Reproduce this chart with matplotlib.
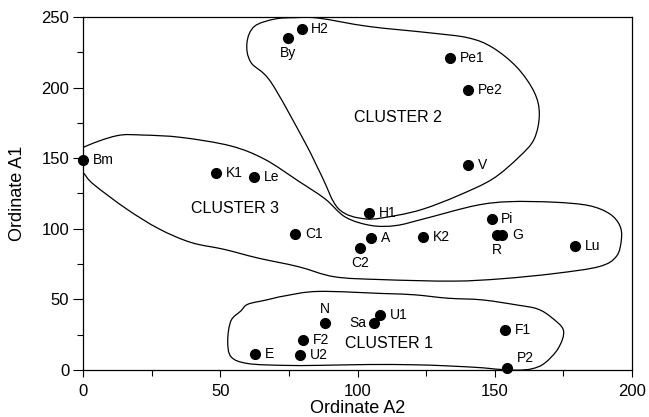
import numpy as np
import matplotlib
matplotlib.use("Agg")
import matplotlib.pyplot as plt
from matplotlib.path import Path
from matplotlib.patches import PathPatch

plt.rcParams["font.family"] = ["Liberation Sans", "DejaVu Sans"]

# ---------------------------------------------------------------------------
# Data
# ---------------------------------------------------------------------------

names = ["Bm", "K1", "Le", "C1", "By", "H2", "Pe1", "Pe2", "V", "H1", "A", "C2",
         "K2", "Pi", "R", "G", "Lu", "N", "Sa", "U1", "F1", "P2", "F2", "E", "U2"]
ord_a2 = [0, 48.4, 62.4, 77.3, 74.6, 79.6, 133.8, 140.3, 140.3, 104.1, 105.0, 100.9,
          123.9, 148.8, 150.8, 152.7, 179.1, 88.2, 106.1, 108.1, 153.8, 154.3, 80.2, 62.8, 79.1]
ord_a1 = [148.8, 139.6, 136.4, 96.6, 235.3, 241.6, 220.8, 198.6, 145.3, 111.1, 93.6, 86.3,
          93.9, 107.0, 95.8, 95.8, 87.8, 33.3, 33.0, 39.1, 28.6, 1.2, 20.9, 11.2, 10.3]
# where each name sits relative to its dot
label_side = ["r", "r", "r", "r", "b", "r", "r", "r", "r", "r", "r", "b",
              "r", "r", "b", "r", "r", "a", "l", "r", "r", "ar", "r", "r", "r"]

cluster_names = ["CLUSTER 1", "CLUSTER 2", "CLUSTER 3"]
cluster_a2 = [111.5, 114.7, 55.4]
cluster_a1 = [18.6, 178.5, 114.6]

# hand-traced cluster outlines (closed loops)
c1_a2 = [52.7, 53.9, 57.5, 60.0, 66.7, 73.4, 85.7, 109.5, 120.7, 132.8, 145.4, 158.0,
         165.5, 170.6, 175.0, 173.1, 168.1, 163.5, 158.0, 150.0, 145.4, 133.0, 121.0,
         104.0, 86.0, 73.0, 60.0, 53.9]
c1_a1 = [20.9, 34.9, 41.8, 46.5, 49.5, 52.4, 55.6, 54.1, 53.2, 50.8, 49.6, 46.0,
         43.2, 37.2, 27.9, 15.3, 4.7, 0.8, -0.2, 0.6, 1.5, 2.8, 3.6,
         3.8, 3.2, 3.2, 4.5, 9.3]

c2_a2 = [59.7, 62.4, 69.8, 77.1, 85.7, 103.9, 126.5, 140.3, 149.1, 158.0, 164.3, 166.2,
         164.3, 158.7, 149.1, 136.5, 124.1, 114.0, 102.8, 93.1, 86.9, 80.8, 68.4, 61.1]
c2_a1 = [231.8, 243.4, 248.6, 249.6, 249.3, 243.4, 238.8, 235.3, 228.5, 214.5, 197.0, 181.3,
         163.5, 150.7, 135.2, 123.4, 114.1, 109.4, 107.0, 114.1, 137.5, 161.3, 204.0, 218.0]

c3_a2 = [-5.0, 0.0, 12.2, 21.8, 35.9, 53.8, 66.1, 78.3, 88.2, 95.6, 105.0, 114.0, 124.1,
         142.8, 155.3, 171.8, 184.3, 191.8, 195.5, 196.1, 194.3, 188.0, 171.8, 152.6,
         134.8, 108.4, 91.5, 78.3, 63.6, 51.4, 39.3, 27.6, 15.8, 3.7, 0.0]
c3_a1 = [150.0, 157.6, 165.9, 166.4, 164.7, 158.7, 149.3, 134.0, 121.1, 108.2, 102.3, 102.3, 107.0,
         116.4, 119.2, 118.8, 116.4, 110.6, 102.3, 92.7, 80.5, 73.2, 68.3, 64.6,
         62.9, 64.0, 66.0, 73.2, 79.3, 85.4, 90.3, 100.0, 114.1, 131.7, 139.9]


def closed_curve(xs, ys):
    """Closed Catmull-Rom loop through the traced points, as cubic Bezier segments."""
    p = np.column_stack([xs, ys]).astype(float)
    n = len(p)
    verts, codes = [p[0]], [Path.MOVETO]
    for i in range(n):
        p0, p1, p2, p3 = p[i - 1], p[i], p[(i + 1) % n], p[(i + 2) % n]
        verts += [p1 + (p2 - p0) / 6, p2 - (p3 - p1) / 6, p2]
        codes += [Path.CURVE4] * 3
    return Path(verts, codes)


# ---------------------------------------------------------------------------
# Figure
# ---------------------------------------------------------------------------

fig = plt.figure(figsize=(6.49, 4.17), dpi=100)
ax = fig.add_axes([0.128, 0.113, 0.846, 0.846])

for xs, ys in [(c1_a2, c1_a1), (c2_a2, c2_a1), (c3_a2, c3_a1)]:
    ax.add_patch(PathPatch(closed_curve(xs, ys), fill=False, lw=0.9, ec="black"))

ax.plot(ord_a2, ord_a1, "o", color="black", ms=7, clip_on=False, zorder=3)

offsets = {"r": ((7, 0), "left", "center"), "b": ((0, -6), "center", "top"),
           "a": ((0, 5), "center", "bottom"), "l": ((-6, 0), "right", "center"),
           "ar": ((7, 2), "left", "bottom")}
for nm, x, y, side in zip(names, ord_a2, ord_a1, label_side):
    off, ha, va = offsets[side]
    ax.annotate(nm, (x, y), xytext=off, textcoords="offset points",
                ha=ha, va=va, fontsize=10)

for nm, x, y in zip(cluster_names, cluster_a2, cluster_a1):
    ax.text(x, y, nm, ha="center", va="center", fontsize=11.5)

ax.set_xlim(0, 200)
ax.set_ylim(0, 250)
ax.set_xticks(np.arange(0, 201, 50))
ax.set_xticks(np.arange(25, 200, 50), minor=True)
ax.set_yticks(np.arange(0, 251, 50))
ax.set_yticks(np.arange(25, 250, 50), minor=True)
ax.tick_params(axis="both", which="major", labelsize=12, width=0.8)
ax.tick_params(axis="x", which="major", length=5, pad=5)
ax.tick_params(axis="x", which="minor", length=4, width=0.8)
ax.tick_params(axis="y", which="major", length=7, pad=3)
ax.tick_params(axis="y", which="minor", length=4, width=0.8)
for s in ax.spines.values():
    s.set_linewidth(0.9)

ax.set_xlabel("Ordinate A2", fontsize=13, labelpad=1)
ax.set_ylabel("Ordinate A1", fontsize=13, labelpad=11)

fig.savefig("out.png", dpi=100)
plt.close(fig)
